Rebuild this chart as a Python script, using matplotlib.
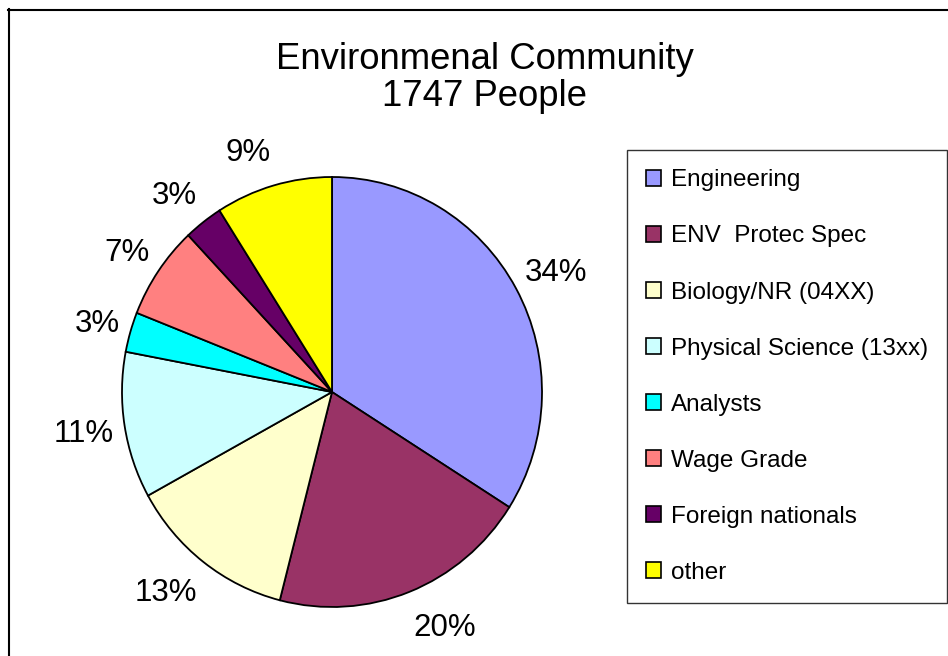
import matplotlib
matplotlib.use('Agg')
import matplotlib.pyplot as plt
import numpy as np
from matplotlib.patches import Patch
from matplotlib.lines import Line2D

plt.rcParams['font.family'] = ['Liberation Sans', 'DejaVu Sans']

# data
categories = ['Engineering', 'ENV  Protec Spec', 'Biology/NR (04XX)', 'Physical Science (13xx)',
              'Analysts', 'Wage Grade', 'Foreign nationals', 'other']
shares = [34, 20, 13, 11, 3, 7, 3, 9]
colors = ['#9999FF', '#993366', '#FFFFCC', '#CCFFFF', '#00FFFF', '#FF8080', '#660066', '#FFFF00']
title = 'Environmenal Community\n1747 People'

W, H = 948, 656
fig = plt.figure(figsize=(W / 100, H / 100), dpi=100)

# pie center ~ (332, 392) px, slightly taller than wide like the excel one
cx, cy, rx, ry = 332, 392, 210, 215
ax = fig.add_axes([(cx - rx) / W, (H - cy - ry) / H, 2 * rx / W, 2 * ry / H])
wedges, texts, autotexts = ax.pie(shares, colors=colors, startangle=90, counterclock=False,
                                  autopct='%1.0f%%', radius=1,
                                  wedgeprops=dict(edgecolor='black', linewidth=1.3),
                                  textprops=dict(fontsize=22.5))
# excel style "outside end" labels: pushed out sideways, aligned on the side
for w, t in zip(wedges, autotexts):
    th = np.deg2rad((w.theta1 + w.theta2) / 2)
    t.set_position((1.05 * np.cos(th), 1.17 * np.sin(th) - 0.012))
    t.set_ha('left' if np.cos(th) > 0 else 'right')
    t.set_va('center')
ax.set_xlim(-1, 1)
ax.set_ylim(-1, 1)
ax.set_aspect('auto')
ax.axis('off')

fig.text(485 / W, 1 - 78 / H, title, ha='center', va='center', fontsize=26.3, linespacing=1.08)

handles = [Patch(facecolor=c, edgecolor='black', linewidth=1.2) for c in colors]
leg = fig.legend(handles, categories, loc='upper left', bbox_to_anchor=(627 / W, 1 - 150 / H),
                 fontsize=17.5, frameon=True, fancybox=False, shadow=False,
                 handlelength=0.6, handleheight=0.6, handletextpad=0.4,
                 labelspacing=1.4, borderpad=0.8, borderaxespad=0)
leg.get_frame().set_edgecolor('black')
leg.get_frame().set_linewidth(1.0)

# outer chart border (runs off right and bottom)
fig.add_artist(Line2D([8.5 / W, 8.5 / W], [0, 1 - 9 / H], color='black', linewidth=1.5))
fig.add_artist(Line2D([8 / W, 1], [1 - 9.5 / H, 1 - 9.5 / H], color='black', linewidth=1.5))

fig.savefig('out.png', dpi=100, facecolor='white')
